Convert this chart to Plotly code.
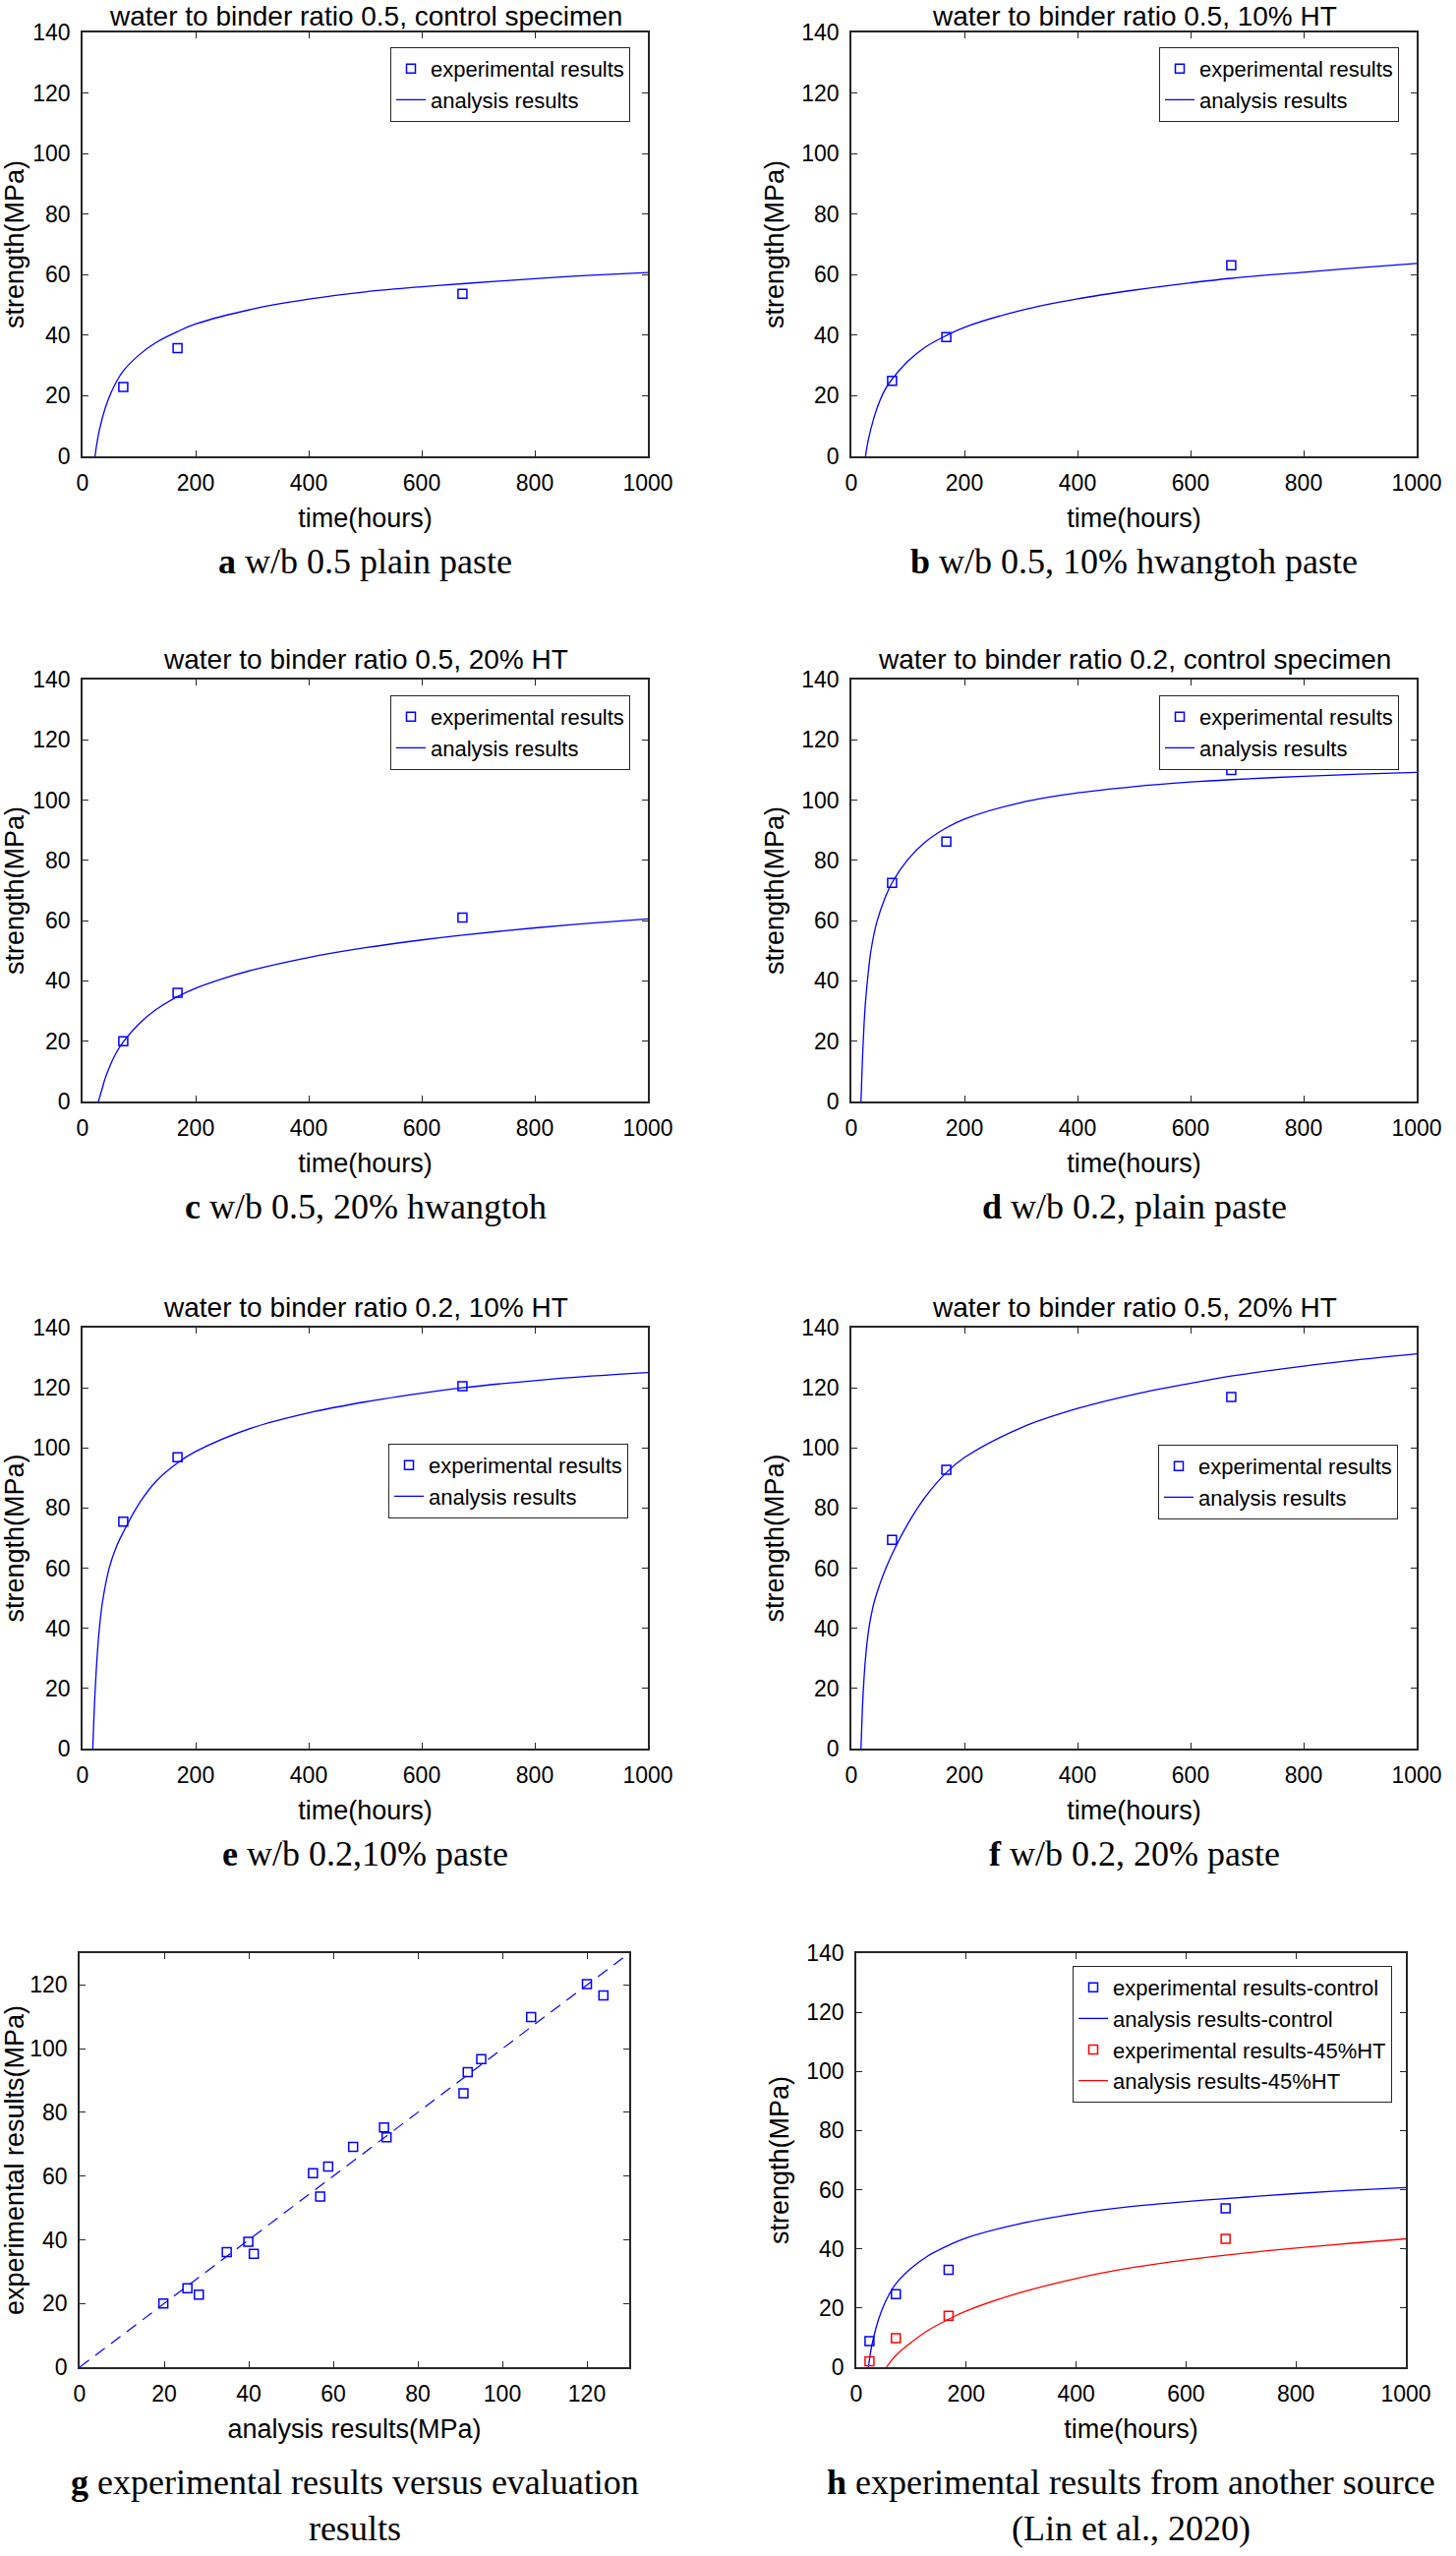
import plotly.graph_objects as go

# ---------------- data ----------------
exp_times = [72, 168, 672]

# a: w/b 0.5 control
a_exp = [22.9, 35.7, 53.7]
a_t = [22, 25, 30, 40, 50, 60, 72, 100, 130, 168, 200, 300, 400, 500, 600, 672, 800, 900, 1000]
a_s = [0, 3.9, 8.9, 15.9, 20.9, 24.7, 28.2, 33.5, 37.6, 41.2, 43.7, 48.6, 51.9, 54.3, 56.0, 57.0, 58.7, 59.8, 60.7]

# b: w/b 0.5, 10% HT
b_exp = [24.9, 39.4, 63.1]
b_t = [25, 30, 40, 50, 60, 72, 100, 130, 168, 200, 300, 400, 500, 600, 672, 800, 900, 1000]
b_s = [0, 5.5, 12.8, 18.2, 22.2, 25.5, 31.4, 36.0, 39.9, 42.6, 48.2, 52.0, 54.9, 57.3, 58.8, 60.8, 62.3, 63.7]

# c: w/b 0.5, 20% HT
c_exp = [20.0, 36.1, 61.0]
c_t = [28, 35, 40, 50, 60, 72, 100, 130, 168, 200, 240, 300, 400, 500, 600, 672, 800, 900, 1000]
c_s = [0, 4.5, 7.7, 12.5, 16.3, 19.8, 25.8, 30.5, 34.8, 37.6, 40.3, 43.6, 47.8, 51.0, 53.6, 55.2, 57.6, 59.2, 60.6]

# d: w/b 0.2 control
d_exp = [72.5, 86.2, 110.0]
d_t = [17, 19, 22, 25, 30, 35, 45, 60, 72, 100, 130, 168, 200, 300, 400, 500, 600, 672, 800, 900, 1000]
d_s = [0, 11, 24, 33, 43, 50.5, 59.5, 67.8, 72.6, 80.3, 86.0, 90.8, 93.7, 99.2, 102.4, 104.5, 106.0, 106.8, 107.9, 108.6, 109.2]

# e: w/b 0.2, 10% HT
e_exp = [75.5, 96.9, 120.5]
e_t = [18, 20, 22, 25, 29, 35, 47, 60, 72, 100, 130, 168, 200, 300, 400, 500, 600, 672, 800, 900, 1000]
e_s = [0, 10, 18.5, 28.5, 38.5, 48.5, 60, 67.2, 72.0, 81.5, 88.9, 95.0, 98.8, 106.7, 111.7, 115.3, 118.2, 120.0, 122.4, 123.9, 125.1]

# f: w/b 0.2, 20% HT
f_exp = [69.4, 92.7, 116.9]
f_t = [17, 19, 21, 25, 31, 40, 50, 60, 72, 100, 130, 168, 200, 300, 400, 500, 600, 672, 800, 900, 1000]
f_s = [0, 11, 19, 30, 40, 48.5, 54.5, 59.5, 64.7, 74.8, 83.5, 91.8, 96.8, 106.7, 113.1, 117.8, 121.5, 123.9, 127.2, 129.4, 131.3]

# g: experimental vs analysis
g_analysis = [28.2, 41.2, 56.9, 25.5, 39.9, 58.8, 19.8, 34.8, 55.2,
              72.6, 90.8, 106.8, 72.0, 95.0, 120.0, 64.7, 91.8, 123.9]
g_experimental = [22.8, 35.6, 53.6, 24.8, 39.4, 63.0, 20.0, 36.1, 60.9,
                  72.2, 86.0, 109.9, 75.3, 96.7, 120.3, 69.2, 92.6, 116.7]
g_line = [0, 130]

# h: Lin et al., 2020
h_times = [24, 72, 168, 672]
h_ctrl_exp = [8.8, 24.7, 32.9, 53.7]
h_ht_exp = [2.0, 9.8, 17.4, 43.4]
h_ctrl_t = a_t
h_ctrl_s = a_s
h_ht_t = [55, 60, 72, 100, 130, 168, 200, 300, 400, 500, 600, 672, 800, 900, 1000]
h_ht_s = [0, 1.3, 4.0, 8.4, 12.4, 16.2, 19.0, 25.3, 30.0, 33.6, 36.3, 37.9, 40.3, 41.9, 43.4]

titles = {
    "a": "water to binder ratio 0.5, control specimen",
    "b": "water to binder ratio 0.5, 10% HT",
    "c": "water to binder ratio 0.5, 20% HT",
    "d": "water to binder ratio 0.2, control specimen",
    "e": "water to binder ratio 0.2, 10% HT",
    "f": "water to binder ratio 0.5, 20% HT",
}
captions = {
    "a": "<b>a</b> w/b 0.5 plain paste",
    "b": "<b>b</b> w/b 0.5, 10% hwangtoh paste",
    "c": "<b>c</b> w/b 0.5, 20% hwangtoh",
    "d": "<b>d</b> w/b 0.2, plain paste",
    "e": "<b>e</b> w/b 0.2,10% paste",
    "f": "<b>f</b> w/b 0.2, 20% paste",
    "g": "<b>g</b> experimental results versus evaluation<br>results",
    "h": "<b>h</b> experimental results from another source<br>(Lin et al., 2020)",
}

# ---------------- layout geometry (pixels) ----------------
W, H = 1481, 2599
def fx(px):
    return px / W
def fy(py):
    return 1 - py / H

# key: (axis index, x0, x1, y_top, y_bottom)
geom = {
    "a": (1, 84, 659, 33, 464),
    "b": (2, 866, 1441, 33, 464),
    "c": (3, 84, 659, 691, 1120),
    "d": (4, 866, 1441, 691, 1120),
    "e": (5, 84, 659, 1350, 1778),
    "f": (6, 866, 1441, 1350, 1778),
    "g": (7, 81, 640, 1986, 2407),
    "h": (8, 871, 1430, 1986, 2407),
}
# legend box (right px, top px)
legend_pos = {
    "a": (641, 48), "b": (1423, 48),
    "c": (641, 707), "d": (1423, 707),
    "e": (639, 1468), "f": (1422, 1469),
    "h": (1416, 1999),
}

BLUE = "#0000FF"
RED = "#FF0000"
AX = "#262626"
SANS = "Liberation Sans, Arial, sans-serif"
SERIF = "Liberation Serif, Times New Roman, serif"
LW = 1.3

fig = go.Figure()

def ax_ids(i):
    return ("x" if i == 1 else f"x{i}"), ("y" if i == 1 else f"y{i}")

def leg_id(i):
    return "legend" if i == 1 else f"legend{i}"

series = {
    "a": (a_exp, a_t, a_s), "b": (b_exp, b_t, b_s), "c": (c_exp, c_t, c_s),
    "d": (d_exp, d_t, d_s), "e": (e_exp, e_t, e_s), "f": (f_exp, f_t, f_s),
}

marker_style = dict(symbol="square-open", size=9, color=BLUE, line=dict(width=1.5, color=BLUE))
curve = dict(width=LW, shape="spline", smoothing=1.0)

for key, (exp_vals, tt, ss) in series.items():
    i = geom[key][0]
    xa, ya = ax_ids(i)
    fig.add_trace(go.Scatter(x=exp_times, y=exp_vals, mode="markers", name="experimental results",
                             marker=marker_style, xaxis=xa, yaxis=ya, legend=leg_id(i)))
    fig.add_trace(go.Scatter(x=tt, y=ss, mode="lines", name="analysis results",
                             line=dict(curve, color=BLUE),
                             xaxis=xa, yaxis=ya, legend=leg_id(i)))

# g
xa, ya = ax_ids(7)
fig.add_trace(go.Scatter(x=g_analysis, y=g_experimental, mode="markers", marker=marker_style,
                         xaxis=xa, yaxis=ya, showlegend=False))
fig.add_trace(go.Scatter(x=g_line, y=g_line, mode="lines", line=dict(color=BLUE, width=1.2, dash="12px,8px"),
                         xaxis=xa, yaxis=ya, showlegend=False))

# h
xa, ya = ax_ids(8)
fig.add_trace(go.Scatter(x=h_times, y=h_ctrl_exp, mode="markers", name="experimental results-control",
                         marker=marker_style, xaxis=xa, yaxis=ya, legend=leg_id(8)))
fig.add_trace(go.Scatter(x=h_ctrl_t, y=h_ctrl_s, mode="lines", name="analysis results-control",
                         line=dict(curve, color=BLUE),
                         xaxis=xa, yaxis=ya, legend=leg_id(8)))
fig.add_trace(go.Scatter(x=h_times, y=h_ht_exp, mode="markers", name="experimental results-45%HT",
                         marker=dict(symbol="square-open", size=9, color=RED, line=dict(width=1.5, color=RED)),
                         xaxis=xa, yaxis=ya, legend=leg_id(8)))
fig.add_trace(go.Scatter(x=h_ht_t, y=h_ht_s, mode="lines", name="analysis results-45%HT",
                         line=dict(curve, color=RED),
                         xaxis=xa, yaxis=ya, legend=leg_id(8)))

layout = dict(
    width=W, height=H,
    margin=dict(l=0, r=0, t=0, b=0),
    paper_bgcolor="white", plot_bgcolor="white",
    font=dict(family=SANS, color="black"),
    showlegend=True,
)

common = dict(showline=True, linecolor=AX, linewidth=1.5, mirror="ticks",
              ticks="inside", ticklen=6, tickwidth=1.2, tickcolor=AX,
              showgrid=False, zeroline=False, automargin=False,
              tickfont=dict(family=SANS, size=23, color="black"))

annotations = []
for key, (i, x0, x1, yt, yb) in geom.items():
    xa, ya = ax_ids(i)
    xname = "xaxis" if i == 1 else f"xaxis{i}"
    yname = "yaxis" if i == 1 else f"yaxis{i}"
    if key == "g":
        xr, yr = [0, 130], [0, 130]
        xt, yt_txt = "analysis results(MPa)", "experimental results(MPa)"
        xtickvals = list(range(0, 121, 20))
        ytickvals = list(range(0, 121, 20))
    else:
        xr, yr = [0, 1000], [0, 140]
        xt, yt_txt = "time(hours)", "strength(MPa)"
        xtickvals = list(range(0, 1001, 200))
        ytickvals = list(range(0, 141, 20))
    layout[xname] = dict(common, domain=[fx(x0), fx(x1)], anchor=ya, range=xr,
                         tickvals=xtickvals, ticklabelstandoff=6,
                         title=dict(text=xt, font=dict(family=SANS, size=27, color="black"), standoff=14))
    layout[yname] = dict(common, domain=[fy(yb), fy(yt)], anchor=xa, range=yr,
                         tickvals=ytickvals, ticklabelstandoff=6,
                         title=dict(text=yt_txt, font=dict(family=SANS, size=27, color="black"), standoff=10))
    if key in titles:
        ty = 16 if yt < 100 else yt - 21
        annotations.append(dict(text=titles[key], x=fx((x0 + x1) / 2), y=fy(ty), xref="paper", yref="paper",
                                xanchor="center", yanchor="middle", showarrow=False,
                                font=dict(family=SANS, size=28, color="black")))
    cap_y = yb + 107 if key not in ("g", "h") else yb + 140
    annotations.append(dict(text=captions[key], x=fx((x0 + x1) / 2), y=fy(cap_y), xref="paper", yref="paper",
                            xanchor="center", yanchor="middle", showarrow=False,
                            font=dict(family=SERIF, size=36, color="black")))
    if key in legend_pos:
        rx, ty = legend_pos[key]
        layout[leg_id(i)] = dict(x=fx(rx), y=fy(ty), xanchor="right", yanchor="top",
                                 bgcolor="white", bordercolor=AX, borderwidth=1,
                                 font=dict(family=SANS, size=22, color="black"),
                                 tracegroupgap=0)

layout["annotations"] = annotations
fig.update_layout(**layout)

fig.write_html("out.html", config={"displayModeBar": False},
               post_script="document.body.style.margin='0px';")
